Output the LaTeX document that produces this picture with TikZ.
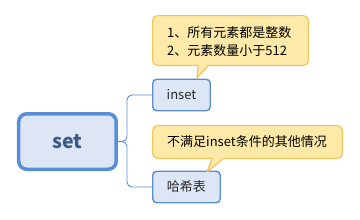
\documentclass[tikz,border=0pt]{standalone}
\usepackage{fontspec}
\setmainfont{Noto Sans CJK SC}
\definecolor{bblue}{RGB}{90,140,210}
\definecolor{rblue}{RGB}{88,142,214}
\definecolor{bfill}{RGB}{221,230,244}
\definecolor{yfill}{RGB}{253,233,168}
\definecolor{ybord}{RGB}{240,198,92}
\definecolor{txt}{RGB}{40,40,40}
\definecolor{settxt}{RGB}{62,90,135}
\tikzset{
  rootbox/.style={draw=rblue, fill=bfill, line width=3.5pt, rounded corners=8pt, minimum width=97.5pt, minimum height=55.5pt, inner sep=0pt, text=settxt, font=\fontsize{19.5}{22}\selectfont\bfseries},
  childbox/.style={draw=bblue, fill=bfill, line width=1.4pt, rounded corners=4pt, minimum height=31.5pt, inner sep=0pt, text=txt, font=\fontsize{13}{15}\selectfont},
  callbox/.style={draw=ybord, fill=yfill, line width=1.2pt, rounded corners=5pt, inner sep=0pt, text=black},
  calltext/.style={anchor=west, inner sep=0pt, text=black, font=\fontsize{13}{18}\selectfont},
  conn/.style={draw=bblue, line width=0.9pt, rounded corners=5pt},
  ptrfill/.style={fill=yfill},
  ptrline/.style={draw=ybord, line width=1.2pt, line join=round}
}
\begin{document}
\begin{tikzpicture}[x=1pt,y=-1pt]
\useasboundingbox (0,0) rectangle (360,220);
\node[rootbox] (root) at (67.5,141.5) {set};
\node[childbox, minimum width=57.5pt] (inset) at (181.5,95) {inset};
\node[childbox, minimum width=67.5pt] (hash) at (186.5,187) {哈希表};
\node[callbox, minimum width=155.8pt, minimum height=49.8pt] (c1) at (230.5,40.5) {};
\node[callbox, minimum width=189.8pt, minimum height=32.8pt] (c2) at (247.5,142) {};
\node[calltext, align=left] (t1) at (167,42) {1、所有元素都是整数\\2、元素数量小于512};
\node[calltext] (t2) at (167,142) {不满足inset条件的其他情况};
% pointers
\coordinate (p1a) at (198,66);
\coordinate (p1b) at (208,66);
\coordinate (p1t) at (197,78);
\fill[ptrfill] (198.6,64) -- (198.6,66) -- (p1t) -- (p1b) -- (207.4,64) -- cycle;
\draw[ptrline] (p1a) -- (p1t) -- (p1b);
\coordinate (p2a) at (212,159);
\coordinate (p2b) at (223,159);
\coordinate (p2t) at (207,172);
\fill[ptrfill] (212.6,157) -- (212.6,159) -- (p2t) -- (p2b) -- (222.4,157) -- cycle;
\draw[ptrline] (p2a) -- (p2t) -- (p2b);
% connectors
\draw[conn] (root.east) -- (127,141.5) |- (inset.west);
\draw[conn] (root.east) -- (127,141.5) |- (hash.west);
\end{tikzpicture}
\end{document}
